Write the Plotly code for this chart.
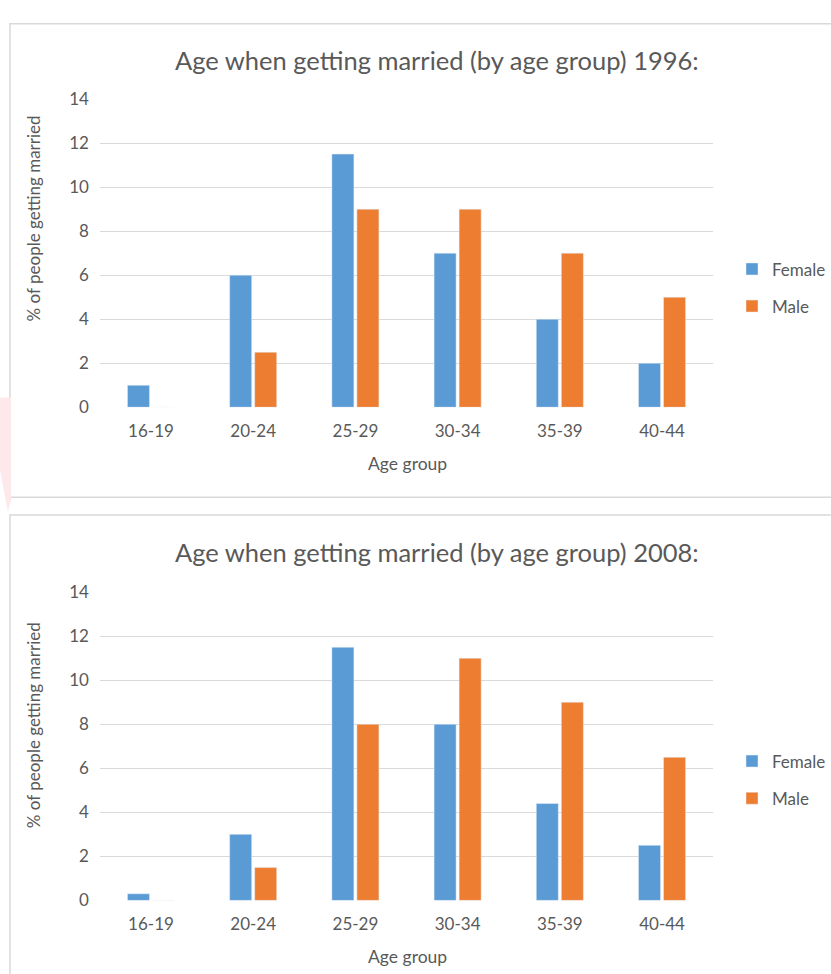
import plotly.graph_objects as go

W, H = 831, 974

categories = ["16-19", "20-24", "25-29", "30-34", "35-39", "40-44"]
female_1996 = [1, 6, 11.5, 7, 4, 2]
male_1996 = [0, 2.5, 9, 9, 7, 5]
female_2008 = [0.3, 3, 11.5, 8, 4.4, 2.5]
male_2008 = [0, 1.5, 8, 11, 9, 6.5]
titles = ["Age when getting married (by age group) 1996:",
          "Age when getting married (by age group) 2008:"]
y_ticks = [0, 2, 4, 6, 8, 10, 12, 14]
x_title = "Age group"
y_title = "% of people getting married"

BLUE = "#5B9BD5"
ORANGE = "#ED7D31"
GRID = "#D9D9D9"
TEXT = "#595959"
FONT = "Lato, Carlito, Calibri, sans-serif"


def px_x(v):
    return v / W


def px_y(v):
    return 1 - v / H


fig = go.Figure()

sets = [(female_1996, male_1996, "", "legend"),
        (female_2008, male_2008, "2", "legend2")]
for i, (fem, mal, ax, lg) in enumerate(sets):
    fig.add_trace(go.Bar(x=categories, y=fem, name="Female", marker_color=BLUE,
                         xaxis="x" + ax, yaxis="y" + ax, legend=lg,
                         legendgroup=f"f{i}"))
    fig.add_trace(go.Bar(x=categories, y=mal, name="Male", marker_color=ORANGE,
                         xaxis="x" + ax, yaxis="y" + ax, legend=lg,
                         legendgroup=f"m{i}"))

panels = [
    dict(top=90, bottom=405, title_y=50, xt_y=462, yt_y=212, leg_y=283,
         frame=(13, 497)),
    dict(top=594, bottom=909, title_y=553, xt_y=966, yt_y=730, leg_y=786,
         frame=(515, 990)),
]
left, right = 100, 714

axis_common = dict(
    showgrid=False, showline=False, zeroline=False,
    tickfont=dict(family=FONT, size=17, color=TEXT),
    fixedrange=True,
)
yaxis_common = dict(
    range=[0, 14], tickvals=y_ticks, showgrid=True, gridcolor=GRID,
    gridwidth=1, zeroline=False, showline=False, ticks="",
    tickfont=dict(family=FONT, size=17, color=TEXT), ticklabelstandoff=10,
    fixedrange=True,
)

layout = dict(
    width=W, height=H,
    margin=dict(l=0, r=0, t=0, b=0),
    paper_bgcolor="white", plot_bgcolor="white",
    barmode="group", bargap=0.51, bargroupgap=0.12,
    showlegend=True,
    font=dict(family=FONT, color=TEXT),
)

shapes = []
annotations = []
for i, p in enumerate(panels):
    sfx = "" if i == 0 else str(i + 1)
    layout["xaxis" + sfx] = dict(
        axis_common,
        domain=[px_x(left), px_x(right)],
        anchor="y" + sfx,
        ticklabelstandoff=12,
    )
    layout["yaxis" + sfx] = dict(
        yaxis_common,
        domain=[px_y(p["bottom"]), px_y(p["top"])],
        anchor="x" + sfx,
    )
    leg_name = "legend" if i == 0 else "legend2"
    layout[leg_name] = dict(
        x=px_x(733), y=px_y(p["leg_y"]), xanchor="left", yanchor="middle",
        font=dict(family=FONT, size=17, color=TEXT),
        bgcolor="rgba(0,0,0,0)", tracegroupgap=12,
        itemwidth=30,
    )
    ft, fb = p["frame"]
    shapes.append(dict(type="rect", xref="paper", yref="paper",
                       x0=px_x(10), x1=px_x(840), y0=px_y(fb), y1=px_y(ft),
                       line=dict(color="#D9D9D9", width=1.5),
                       fillcolor="rgba(0,0,0,0)", layer="below"))
    annotations.append(dict(text=titles[i], xref="paper", yref="paper",
                            x=px_x(438), y=px_y(p["title_y"]),
                            xanchor="center", yanchor="middle", showarrow=False,
                            font=dict(family=FONT, size=25.5, color=TEXT)))
    annotations.append(dict(text=x_title, xref="paper", yref="paper",
                            x=px_x(408), y=px_y(p["xt_y"]),
                            xanchor="center", yanchor="middle", showarrow=False,
                            font=dict(family=FONT, size=17.5, color=TEXT)))
    annotations.append(dict(text=y_title, xref="paper", yref="paper",
                            x=px_x(33), y=px_y(p["yt_y"]), textangle=-90,
                            xanchor="center", yanchor="middle", showarrow=False,
                            font=dict(family=FONT, size=17, color=TEXT)))

# faint pink watermark fragment at the left edge of the reference
shapes.append(dict(
    type="path", xref="paper", yref="paper",
    path=(f"M 0 {px_y(395)} L {px_x(11)} {px_y(395)} L {px_x(11)} {px_y(500)} "
          f"L {px_x(8)} {px_y(512)} L 0 {px_y(470)} Z"),
    fillcolor="#FDE9EC", line=dict(width=0), layer="below"))

layout["shapes"] = shapes
layout["annotations"] = annotations
fig.update_layout(**layout)

fig.write_html(
    "out.html",
    config={"displayModeBar": False, "staticPlot": False},
    post_script="document.body.style.margin='0';document.body.style.overflow='hidden';",
)
